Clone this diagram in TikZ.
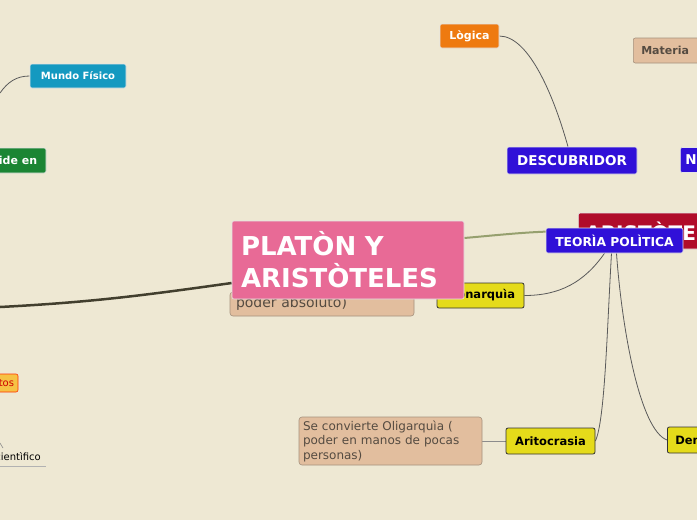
\documentclass[tikz,border=0pt]{standalone}
\usepackage{fontspec}
\setmainfont{DejaVu Sans}
\usetikzlibrary{arrows.meta, positioning, backgrounds, calc}
\usepackage{xcolor}
\definecolor{mbg}{RGB}{238,232,211}
\definecolor{mblue}{RGB}{48,16,216}
\definecolor{mteal}{RGB}{20,153,192}
\definecolor{mgreen}{RGB}{27,133,51}
\definecolor{morange}{RGB}{238,122,16}
\definecolor{mred}{RGB}{176,12,42}
\definecolor{mpink}{RGB}{232,106,150}
\definecolor{myellow}{RGB}{229,219,26}
\definecolor{mgold}{RGB}{246,194,68}
\definecolor{mnote}{RGB}{226,190,158}
\definecolor{mnoteline}{RGB}{165,145,125}
\definecolor{mnotetext}{RGB}{85,75,65}
\definecolor{mline}{RGB}{90,90,90}
\definecolor{molive}{RGB}{150,160,110}

\begin{document}
\begin{tikzpicture}[x=1pt,y=-1pt,
  box/.style={draw=white!90!black,rounded corners=2pt,text=white,inner sep=0pt,
              line width=0.6pt,font=\bfseries\fontsize{11}{13}\selectfont},
  leaf/.style={draw=black!80,rounded corners=2pt,fill=myellow,inner sep=0pt,
               line width=0.8pt,minimum height=25,font=\bfseries\fontsize{11.5}{13}\selectfont},
  note/.style={draw=mnoteline,rounded corners=3pt,fill=mnote,text=mnotetext,
               inner sep=0pt,line width=0.6pt,align=left},
  link/.style={mline,line width=0.8pt}
]
\useasboundingbox (0,0) rectangle (697,520);

% ramas de la izquierda
\node[box,fill=mteal,minimum width=96,minimum height=24,
      font=\bfseries\fontsize{10}{12}\selectfont] (mundo) at (78,76) {Mundo Físico};
\node[box,fill=mgreen,minimum width=56,minimum height=25] (divide) at (18,160.5) {ide en};
\node[box,draw=red!60!orange,fill=mgold,text=red!80!black,text width=30,align=right,
      inner xsep=4pt,minimum height=18,font=\fontsize{10}{12}\selectfont]
      (concep) at (-1,383) {tos};
\node[anchor=east,inner sep=1pt,font=\fontsize{10}{12}\selectfont] (cient) at (42,457) {cientìfico};
\coordinate (mundo0) at (0,93);
\coordinate (left0) at (0,307);
\coordinate (cient0) at (0,443);

% ramas de arriba
\node[box,fill=morange,minimum width=59,minimum height=24] (logica) at (469.5,36) {Lògica};
\node[box,draw=mnoteline,fill=mnote,text=mnotetext,anchor=west,text width=60,align=left,
      inner xsep=8pt,minimum height=25] (materia) at (633,50.5) {Materia};
\node[box,fill=mblue,minimum width=130,minimum height=27,
      font=\bfseries\fontsize{13.5}{15}\selectfont] (descub) at (572,160.5) {DESCUBRIDOR};
\node[box,fill=mblue,anchor=west,text width=20,align=left,inner xsep=5pt,minimum height=25,
      font=\bfseries\fontsize{13.5}{15}\selectfont] (nbox) at (680,160) {N};

% centro
\node[box,fill=mred,anchor=west,text width=140,align=left,inner xsep=7pt,minimum height=36,
      font=\bfseries\fontsize{20}{22}\selectfont] (aristo) at (578,231) {ARISTÒTELES};
\node[box,fill=mblue,minimum width=137,minimum height=25,
      font=\bfseries\fontsize{12.3}{14}\selectfont] (teoria) at (614.5,240.5) {TEORÌA POLÌTICA};
\node[note,minimum width=184,minimum height=24,text width=172,
      font=\fontsize{14}{16}\selectfont] (absol) at (322,304) {poder absoluto)};
\node[leaf,minimum width=87] (monarq) at (480.5,295.5) {Monarquìa};
\node[box,fill=mpink,minimum width=232,minimum height=78,text width=214,align=left,
      font=\bfseries\fontsize{26}{32}\selectfont] (platon) at (348,260) {PLATÒN Y\\ARISTÒTELES};

% formas de gobierno
\node[leaf,minimum width=89,minimum height=26] (aritoc) at (550.5,441) {Aritocrasia};
\node[leaf,anchor=west,text width=40,align=left,inner xsep=8pt,minimum height=26] (dem) at (667,440) {Dem};
\node[note,minimum width=183,minimum height=48,text width=175,
      font=\fontsize{12}{14.5}\selectfont] (oligar) at (390.5,441)
      {Se convierte Oligarquìa (\\poder en manos de pocas\\personas)};

\begin{scope}[on background layer]
\fill[mbg] (0,0) rectangle (697,520);
\draw[link] (mundo.west) to[out=180,in=55] (mundo0);
\draw[black!30,line width=1pt] ([xshift=-6pt,yshift=-4pt]cient.south west) -- ([xshift=4pt,yshift=-4pt]cient.south east);
\draw[link,black!45,line width=0.6pt] (cient0) -- ++(3,5);
\draw[link,line width=2.5pt,black!70!olive] ([yshift=-23pt]platon.west) to[out=188,in=3] (left0);
\draw[molive,line width=2pt] ([yshift=22pt]platon.east) to[out=5,in=180] (aristo.west);
\draw[link] (logica.east) .. controls (530,36) and (555,100) .. ([xshift=-4pt]descub.north);
\draw[link] (monarq.east) to[out=0,in=235] ([xshift=-10pt]teoria.south);
\draw[link] (aritoc.east) .. controls (605,420) and (607,330) .. ([xshift=-3pt]teoria.south);
\draw[link] (dem.west) .. controls (640,430) and (622,330) .. ([xshift=2pt]teoria.south);
\draw[link,black!45] (oligar.east) -- (aritoc.west);
\end{scope}
\end{tikzpicture}
\end{document}
